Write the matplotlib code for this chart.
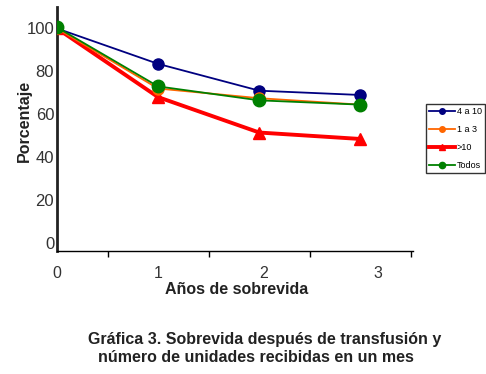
import matplotlib
matplotlib.use("Agg")
import matplotlib.pyplot as plt

years = [0, 1, 2, 3]
tick_pos = [0.5, 1.5, 2.5, 3.5]
label_pos = [0, 1, 2.04, 3.17]
tick_labels = ["0", "1", "2", "3"]

s_4a10 = [100, 83.5, 71, 69]
s_1a3 = [100, 72, 67.5, 64.5]
s_mas10 = [100, 68, 51.5, 48.5]
s_todos = [100.5, 73, 66.5, 64.5]

plt.rcParams["font.family"] = ["Liberation Sans", "DejaVu Sans"]

fig = plt.figure(figsize=(4.86, 3.74), dpi=100)
ax = fig.add_axes([57 / 486, 1 - 251 / 374, 356 / 486, 244 / 374])

ax.plot(years, s_4a10, color="#000080", lw=1.3, marker="o", ms=8, label="4 a 10", zorder=3)
ax.plot(years, s_1a3, color="#ff6600", lw=1.3, marker="o", ms=8, label="1 a 3", zorder=4)
ax.plot(years, s_mas10, color="#ff0000", lw=2.8, marker="^", ms=8, label=">10", zorder=3)
ax.plot(years, s_todos, color="#008000", lw=1.3, marker="o", ms=9, label="Todos", zorder=5)

ax.set_xlim(0, 3.52)
ax.set_ylim(-3.7, 110)
ax.set_yticks([0, 20, 40, 60, 80, 100])
ax.tick_params(axis="y", length=0, labelsize=12, labelcolor="#333333", pad=2)

ax.set_xticks(tick_pos)
ax.set_xticklabels([])
ax.tick_params(axis="x", which="major", length=4, width=1)
ax.set_xticks(label_pos, minor=True)
ax.set_xticklabels(tick_labels, minor=True)
ax.tick_params(axis="x", which="minor", length=0, labelsize=11.5, labelcolor="#333333", pad=11)

for side in ["top", "right"]:
    ax.spines[side].set_visible(False)
ax.spines["left"].set_linewidth(2)
ax.spines["left"].set_color("#222222")
ax.spines["bottom"].set_linewidth(1)

ax.set_xlabel("Años de sobrevida", fontsize=11.5, fontweight="bold", color="#222222")
ax.xaxis.set_label_coords((237 - 57) / 356, -(294 - 251) / 244)
ax.xaxis.label.set_va("baseline")
ax.set_ylabel("Porcentaje", fontsize=11.5, fontweight="bold", color="#222222")
ax.yaxis.set_label_coords(-(57 - 24) / 356, (251 - 120.5) / 244)
ax.yaxis.label.set_va("center")

leg = ax.legend(loc="upper left", bbox_to_anchor=(426 / 486, 1 - 104 / 374), bbox_transform=fig.transFigure,
                fontsize=6.5, frameon=True, fancybox=False, edgecolor="black", markerscale=0.5,
                handlelength=2.9, borderpad=0.35, labelspacing=1.0, handletextpad=0.15, borderaxespad=0)
leg.get_frame().set_linewidth(1)

fig.text(265 / 486, 1 - 344 / 374, "Gráfica 3. Sobrevida después de transfusión y",
         ha="center", va="baseline", fontsize=11.5, fontweight="bold", color="#222222")
fig.text(256 / 486, 1 - 362 / 374, "número de unidades recibidas en un mes",
         ha="center", va="baseline", fontsize=11.5, fontweight="bold", color="#222222")

fig.savefig("out.png", dpi=100)
